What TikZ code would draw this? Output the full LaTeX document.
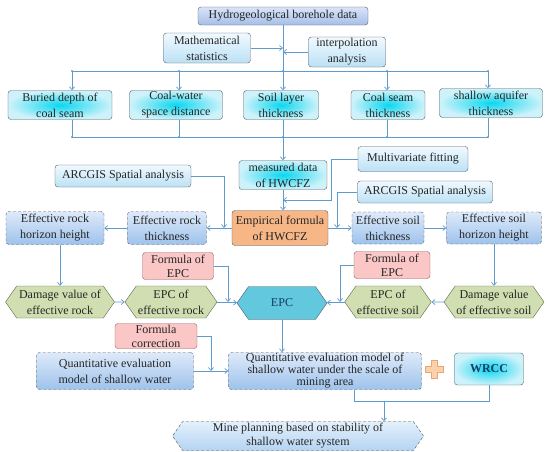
\documentclass[tikz,border=0pt]{standalone}
\usepackage{fontspec}
\setmainfont{Liberation Serif}
\usetikzlibrary{arrows.meta,positioning,calc,shapes.symbols}
\definecolor{lineblue}{RGB}{95,155,205}
\definecolor{boxedge}{RGB}{85,90,100}
\definecolor{cyanin}{RGB}{10,215,240}
\definecolor{cyanout}{RGB}{205,242,250}
\definecolor{paletop}{RGB}{240,249,255}
\definecolor{palebot}{RGB}{188,225,245}
\definecolor{dashtop}{RGB}{222,234,250}
\definecolor{dashbot}{RGB}{158,194,235}
\definecolor{headtop}{RGB}{218,228,248}
\definecolor{headbot}{RGB}{165,190,232}
\definecolor{orangebg}{RGB}{246,182,134}
\definecolor{pinkbg}{RGB}{250,198,198}
\definecolor{pinkline}{RGB}{150,95,95}
\definecolor{greenbg}{RGB}{208,222,178}
\definecolor{greenline}{RGB}{90,105,70}
\definecolor{epcbg}{RGB}{98,200,222}
\definecolor{epctext}{RGB}{20,60,100}
\definecolor{plantop}{RGB}{228,240,252}
\definecolor{planbot}{RGB}{180,212,242}
\definecolor{plusbg}{RGB}{252,208,170}
\definecolor{plusline}{RGB}{235,165,110}
\tikzset{
  base/.style={
    align=center,
    inner sep=1pt,
    text=black!85,
    font=\fontsize{12}{16}\selectfont
  },
  headbox/.style={
    base,
    draw=boxedge,
    rounded corners=3pt,
    top color=headtop,
    bottom color=headbot
  },
  methodbox/.style={
    base,
    draw=boxedge,
    rounded corners=3pt,
    top color=paletop,
    bottom color=palebot
  },
  factorbox/.style={
    base,
    draw=boxedge,
    rounded corners=3pt,
    inner color=cyanin,
    outer color=cyanout
  },
  dashbox/.style={
    base,
    draw=boxedge,
    densely dashed,
    rounded corners=3pt,
    top color=dashtop,
    bottom color=dashbot
  },
  formbox/.style={
    base,
    draw=boxedge,
    rounded corners=3pt,
    fill=orangebg
  },
  pinkbox/.style={
    base,
    draw=pinkline,
    rounded corners=3pt,
    fill=pinkbg,
    font=\fontsize{12}{14}\selectfont
  },
  hexbox/.style={
    base,
    signal,
    signal to=east and west,
    signal pointer angle=110,
    draw=greenline,
    fill=greenbg
  },
  link/.style={draw=lineblue, line width=0.7pt},
  arrow/.style={link, -{Straight Barb[length=3pt,width=5pt]}}
}
\begin{document}
\begin{tikzpicture}[x=1pt, y=-1pt]
  \useasboundingbox (0,0) rectangle (550,451);

  % data and methods
  \node[headbox, minimum width=170pt, minimum height=18pt] (hydro) at (283,16) {Hydrogeological borehole data};
  \node[methodbox, minimum width=87pt, minimum height=30pt] (math) at (207,48) {Mathematical\\statistics};
  \node[methodbox, minimum width=77pt, minimum height=30pt] (interp) at (347,52) {interpolation\\analysis};

  % influencing factors
  \node[factorbox, minimum width=104pt, minimum height=29pt] (depth) at (60,105) {Buried depth of\\coal seam};
  \node[factorbox, minimum width=93pt, minimum height=29pt] (space) at (176,105) {Coal-water\\space distance};
  \node[factorbox, minimum width=75pt, minimum height=29pt] (soil) at (281,105) {Soil layer\\thickness};
  \node[factorbox, minimum width=74pt, minimum height=29pt] (seam) at (388,105) {Coal seam\\thickness};
  \node[factorbox, minimum width=103pt, minimum height=29pt] (aquifer) at (491,103) {shallow aquifer\\thickness};

  % HWCFZ
  \node[factorbox, minimum width=88pt, minimum height=29pt] (measured) at (283,175) {measured data\\of HWCFZ};
  \node[methodbox, minimum width=110pt, minimum height=25pt] (multi) at (413,159) {Multivariate fitting};
  \node[methodbox, minimum width=135pt, minimum height=22pt] (arcR) at (425,192) {ARCGIS Spatial analysis};
  \node[methodbox, minimum width=136pt, minimum height=22pt] (arcL) at (123,176) {ARCGIS Spatial analysis};
  \node[formbox, minimum width=96pt, minimum height=35pt] (empirical) at (280,228) {Empirical formula\\of HWCFZ};

  % effective layers
  \node[dashbox, minimum width=79pt, minimum height=33pt] (rockthick) at (167,228) {Effective rock\\thickness};
  \node[dashbox, minimum width=98pt, minimum height=33pt] (rockheight) at (55,228) {Effective rock\\horizon height};
  \node[dashbox, minimum width=72pt, minimum height=32pt] (soilthick) at (388,228) {Effective soil\\thickness};
  \node[dashbox, minimum width=95pt, minimum height=32pt] (soilheight) at (494,228) {Effective soil\\horizon height};

  % EPC
  \node[pinkbox, minimum width=71pt, minimum height=27pt] (epcformL) at (178,266) {Formula of\\EPC};
  \node[pinkbox, minimum width=76pt, minimum height=27pt] (epcformR) at (392,265) {Formula of\\EPC};
  \node[hexbox, minimum width=109pt, minimum height=32pt] (damageRock) at (60,302) {Damage value of\\effective rock};
  \node[hexbox, minimum width=92pt, minimum height=32pt] (epcRock) at (171,302) {EPC of\\effective rock};
  \node[hexbox, draw=boxedge, fill=epcbg, text=epctext, minimum width=90pt, minimum height=33pt] (epc) at (282,303) {EPC};
  \node[hexbox, minimum width=83pt, minimum height=32pt] (epcSoil) at (388,302) {EPC of\\effective soil};
  \node[hexbox, minimum width=100pt, minimum height=32pt] (damageSoil) at (494,302) {Damage value\\of effective soil};

  % evaluation
  \node[pinkbox, minimum width=82pt, minimum height=25pt] (correct) at (156,336) {Formula\\correction};
  \node[dashbox, minimum width=157pt, minimum height=37pt] (quantL) at (115,371) {Quantitative evaluation\\model of shallow water};
  \node[dashbox, font=\fontsize{12}{12}\selectfont, minimum width=193pt, minimum height=37pt] (quantM) at (325,371) {Quantitative evaluation model of\\shallow water under the scale of\\mining area};
  \node[factorbox, text=epctext, minimum width=69pt, minimum height=32pt] (wrcc) at (489,369) {\textbf{WRCC}};
  \node[hexbox, draw=boxedge, densely dashed, top color=plantop, bottom color=planbot, font=\fontsize{12}{14}\selectfont, minimum width=251pt, minimum height=29pt] (plan) at (298,436) {Mine planning based on stability of\\shallow water system};

  % plus sign
  \draw[plusline, fill=plusbg, line width=0.6pt] (431,360) -- (437,360) -- (437,366) -- (443,366) -- (443,372) -- (437,372) -- (437,378) -- (431,378) -- (431,372) -- (425,372) -- (425,366) -- (431,366) -- cycle;

  % top part
  \draw[link] (hydro) -- (283,71);
  \draw[arrow] (math.east) -- (math.east -| hydro.south);
  \draw[arrow] (interp.west) -- (interp.west -| hydro.south);
  \draw[link] (72,71) -- (488,71);
  \draw[link] (72,137) -- (488,137);
  \foreach \n/\x in {depth/72,space/179,soil/283,seam/387,aquifer/488} {
    \draw[arrow] (\x,71) -- (\x,0 |- \n.north);
    \draw[link] (\x,0 |- \n.south) -- (\x,137);
    \fill[lineblue] (\x,71) circle (1.1pt);
    \fill[lineblue] (\x,137) circle (1.1pt);
  }
  \draw[arrow] (283,137) -- (measured.north);

  % HWCFZ
  \coordinate (fitjoin) at (283,200);
  \coordinate (rockjoin) at (224,228);
  \coordinate (soiljoin) at (337,228);
  \draw[arrow] (measured.south) -- (measured.south |- empirical.north);
  \draw[arrow] (multi.west) -| (331,200) -- (fitjoin);
  \draw[arrow] (arcR.west) -| (soiljoin);
  \draw[arrow] (arcL.east) -| (rockjoin);
  \draw[arrow] (empirical.west) -- (rockthick.east);
  \draw[arrow] (empirical.east) -- (soilthick.west);
  \draw[arrow] (rockthick) -- (rockheight);
  \draw[arrow] (soilthick) -- (soilheight);
  \draw[arrow] (damageRock.north |- rockheight.south) -- (damageRock.north);
  \draw[arrow] (soilheight.south) -- (soilheight.south |- damageSoil.north);

  % EPC
  \coordinate (epcjoinL) at (228,302);
  \coordinate (epcjoinR) at (340,302);
  \draw[arrow] (damageRock) -- (epcRock);
  \draw[arrow] (epcRock) -- (epc);
  \draw[arrow] (damageSoil) -- (epcSoil);
  \draw[arrow] (epcSoil) -- (epc);
  \draw[arrow] (epcformL.east) -| (epcjoinL);
  \draw[arrow] (epcformR.west) -| (epcjoinR);

  % evaluation
  \coordinate (corrjoin) at (211,371);
  \draw[arrow] (epc.south) -- (epc.south |- quantM.north);
  \draw[arrow] (correct.east) -| (corrjoin);
  \draw[arrow] (quantL) -- (quantM);
  \draw[link] (354,0 |- quantM.south) |- (wrcc.south |- 0,401) -- (wrcc.south);
  \draw[arrow] (384,401) -- (384,0 |- plan.north);
\end{tikzpicture}
\end{document}
